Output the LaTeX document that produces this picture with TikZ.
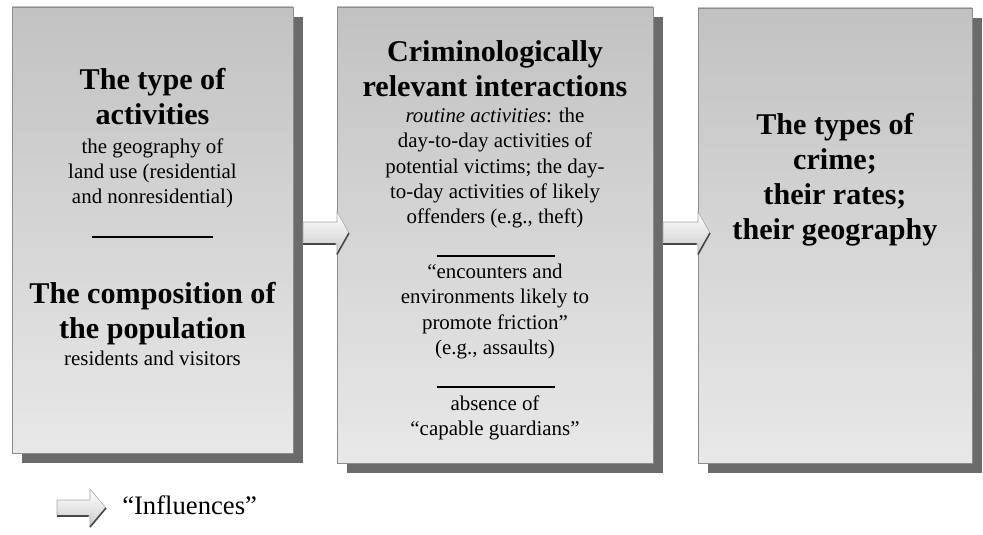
\documentclass[tikz,border=0pt]{standalone}
\usepackage{fontspec}
\setmainfont{Liberation Serif}
\usetikzlibrary{calc,shadows}

\newcommand{\headfont}{\fontsize{22.6pt}{26.25pt}\selectfont\bfseries}
\newcommand{\bodyfont}{\fontsize{15.7pt}{18.9pt}\selectfont}

\tikzset{
    panel/.style={
        draw=black!45, line width=.4pt, inner sep=0pt, outer sep=0pt,
        top color=black!24, bottom color=black!9,
        drop shadow={shadow xshift=7.5pt, shadow yshift=-7.5pt, fill=black!58, opacity=1}
    },
    head/.style={font=\headfont, align=center, inner sep=0pt, anchor=north},
    body/.style={font=\bodyfont, align=center, inner sep=0pt, anchor=north},
    divider/.style={line width=.8pt},
    arrowbody/.style={top color=white, bottom color=black!20, draw=black!35, line width=.4pt},
    arrowedge/.style={draw=black!72, line width=1.2pt},
}

% block arrow: start, tip, shaft half, head half, head length
\newcommand{\blockarrow}[5]{%
  \shade[arrowbody] let \p1=(#1), \p2=(#2) in
    (\x1,\y1+#3) -- (\x2-#5,\y1+#3) -- (\x2-#5,\y1+#4) -- (\x2,\y1)
    -- (\x2-#5,\y1-#4) -- (\x2-#5,\y1-#3) -- (\x1,\y1-#3) -- cycle;
  \draw[arrowedge] let \p1=(#1), \p2=(#2) in
    (\x1,\y1-#3) -- (\x2-#5-1pt,\y1-#3) (\x2-#5,\y1-#4) -- (\x2,\y1);
}

\begin{document}
\begin{tikzpicture}[x=0.75pt, y=-0.75pt]
\useasboundingbox (0,0) rectangle (983,535);

% the three panels
\node[panel, minimum width=210.75pt, minimum height=334.5pt] (box1) at (152.5,230) {};
\node[panel, minimum width=237pt, minimum height=342pt] (box2) at (495,235) {};
\node[panel, minimum width=205.5pt, minimum height=341.25pt] (box3) at (835,235.5) {};

% left panel
\node[head] (act) at (152.5,68) {The type of\\activities};
\node[body] (landuse) at (152.5,138) {the geography of\\land use (residential\\and nonresidential)};
\draw[divider] (92,237) -- (213,237);
\node[head] (pop) at (152.5,282) {The composition of\\the population};
\node[body] (resid) at (152.5,351) {residents and visitors};

% middle panel
\node[head] (inter) at (495,40) {Criminologically\\relevant interactions};
\node[body] (routine) at (495,108) {\textit{routine activities}: the\\day-to-day activities of\\potential victims; the day-\\to-day activities of likely\\offenders (e.g., theft)};
\draw[divider] (437,256) -- (555,256);
\node[body] (friction) at (495,264) {“encounters and\\environments likely to\\promote friction”\\(e.g., assaults)};
\draw[divider] (437,387) -- (555,387);
\node[body] (guard) at (495,395) {absence of\\“capable guardians”};

% right panel
\node[head] (crime) at (835,113) {The types of\\crime;\\their rates;\\their geography};

% influence arrows
\coordinate (row) at (0,233);
\coordinate (a1s) at ($(box1.east|-row)+(10,0)$);
\coordinate (a1e) at ($(box2.west|-row)+(12,0)$);
\coordinate (a2s) at ($(box2.east|-row)+(10,0)$);
\coordinate (a2e) at ($(box3.west|-row)+(12,0)$);
\blockarrow{a1s}{a1e}{8.25pt}{16pt}{9pt}
\blockarrow{a2s}{a2e}{8.25pt}{16pt}{9pt}

% legend
\coordinate (lgs) at (57,508);
\coordinate (lge) at (106,508);
\blockarrow{lgs}{lge}{6pt}{14.25pt}{12pt}
\node[font=\fontsize{20pt}{24pt}\selectfont, inner sep=0pt, anchor=base west] (infl) at (122,514) {“Influences”};
\end{tikzpicture}
\end{document}
